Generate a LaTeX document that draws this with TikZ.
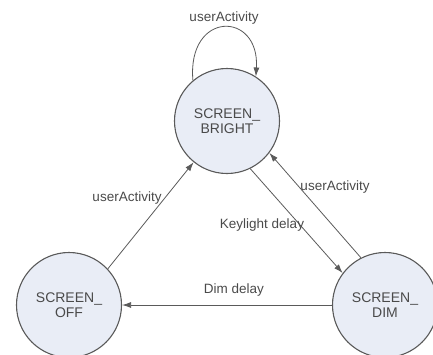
\documentclass[tikz,border=0pt]{standalone}
\usepackage{fontspec}
\setmainfont{Liberation Sans}
\usetikzlibrary{arrows.meta}
\definecolor{statefill}{HTML}{E9EDF6}
\definecolor{lineg}{HTML}{5A5A5A}
\definecolor{textg}{HTML}{4A4A4A}
\tikzset{
    screenstate/.style={circle, draw=lineg, line width=1.1pt, fill=statefill,
        minimum size=105pt, inner sep=0pt, align=center, text=textg,
        font=\fontsize{14}{15}\selectfont},
    transition/.style={draw=lineg, line width=0.8pt, -{Latex[length=9pt,width=6pt]}},
    translabel/.style={text=textg, font=\fontsize{13.5}{15}\selectfont}
}
\begin{document}
\begin{tikzpicture}[x=1pt, y=-1pt]
    \useasboundingbox (0,0) rectangle (433,354);
    % Three screen states

    % --- States ---
    \node[screenstate] (bright) at (227,121) {SCREEN\_\\BRIGHT};
    \node[screenstate] (off) at (69,305) {SCREEN\_\\OFF};
    \node[screenstate] (dim) at (385,305) {SCREEN\_\\DIM};

    % --- Transitions ---
    % self loop on bright
    \draw[transition] (bright.130) .. controls +(-6,-70) and +(4,-66) .. (bright.57);
    \draw[transition] (off.43) -- (bright.231);
    \draw[transition] (bright.296) -- (dim.143);
    \draw[transition] (dim.117) -- (bright.323);
    \draw[transition] (dim.180) -- (off.0);

    % --- Labels ---
    \node[translabel] (loopl) at (224,18) {userActivity};
    \node[translabel] (offl) at (127,198) {userActivity};
    \node[translabel] (keyl) at (262,225) {Keylight delay};
    \node[translabel] (diml) at (335,187) {userActivity};
    \node[translabel] (dimdl) at (234,290) {Dim delay};
\end{tikzpicture}
\end{document}
